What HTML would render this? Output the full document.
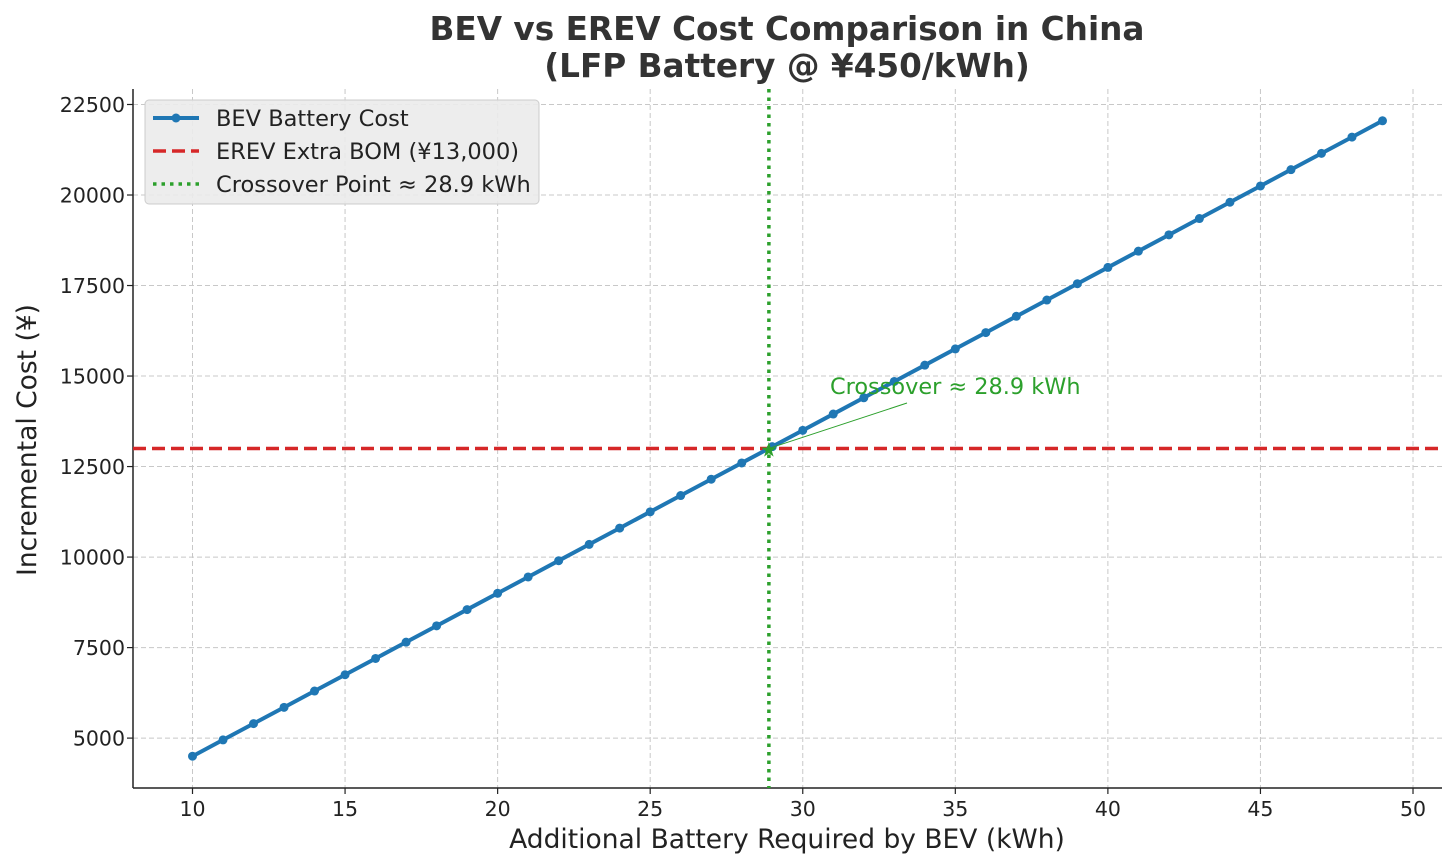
<!DOCTYPE html>
<html><head><meta charset="utf-8"><style>
body{margin:0;background:#fff;}
svg{display:block;font-family:"DejaVu Sans","Liberation Sans",sans-serif;}
</style></head><body>
<svg id="chart" width="1456" height="868" xmlns="http://www.w3.org/2000/svg">
<text x="787" y="40" text-anchor="middle" font-size="32.7" font-weight="bold" fill="#333">BEV vs EREV Cost Comparison in China</text>
<text x="787" y="77" text-anchor="middle" font-size="32.7" font-weight="bold" fill="#333">(LFP Battery @ ¥450/kWh)</text>
<g id="grid"></g><g id="ticks"></g><g id="marks"></g>
<text x="787" y="848" text-anchor="middle" font-size="26.5" fill="#222">Additional Battery Required by BEV (kWh)</text>
<text transform="translate(36,440) rotate(-90)" text-anchor="middle" font-size="26.5" fill="#222">Incremental Cost (¥)</text>
</svg>
<script>
const kwh = [10,11,12,13,14,15,16,17,18,19,20,21,22,23,24,25,26,27,28,29,30,31,32,33,34,35,36,37,38,39,40,41,42,43,44,45,46,47,48,49];
const bevCost = [4500,4950,5400,5850,6300,6750,7200,7650,8100,8550,9000,9450,9900,10350,10800,11250,11700,12150,12600,13050,13500,13950,14400,14850,15300,15750,16200,16650,17100,17550,18000,18450,18900,19350,19800,20250,20700,21150,21600,22050];
const erevCost = [13000];
const crossover = [28.89];
const xTicks = [10,15,20,25,30,35,40,45,50];
const yTicks = [5000,7500,10000,12500,15000,17500,20000,22500];

const L=133,R=1442,T=89,B=788;
const xmin=8.05,xmax=50.95,ymin=3622,ymax=22928;
const X=v=>L+(v-xmin)/(xmax-xmin)*(R-L);
const Y=v=>B-(v-ymin)/(ymax-ymin)*(B-T);
const NS="http://www.w3.org/2000/svg";
function mk(tag,attrs,parent){const e=document.createElementNS(NS,tag);for(const k in attrs)e.setAttribute(k,attrs[k]);document.getElementById(parent).appendChild(e);return e;}

xTicks.forEach(t=>{
 const g=mk('line',{x1:X(t),x2:X(t),y1:T,y2:B,stroke:'#c8c8c8','stroke-width':1,'stroke-dasharray':'5,3'},'grid');
 
 
 mk('line',{x1:X(t),x2:X(t),y1:B,y2:B+6,stroke:'#222','stroke-width':1.2},'ticks');
 const tx=mk('text',{x:X(t),y:B+28,'text-anchor':'middle','font-size':20.5,fill:'#222'},'ticks');
 tx.textContent=t;
 
 
});
yTicks.forEach(t=>{
 const g=mk('line',{x1:L,x2:R,y1:Y(t),y2:Y(t),stroke:'#c8c8c8','stroke-width':1,'stroke-dasharray':'5,3'},'grid');
 
 
 mk('line',{x1:L-6,x2:L,y1:Y(t),y2:Y(t),stroke:'#222','stroke-width':1.2},'ticks');
 const tx=mk('text',{x:L-8,y:Y(t)+7.5,'text-anchor':'end','font-size':20.5,fill:'#222'},'ticks');
 tx.textContent=t;
 
 
});
mk('line',{x1:L,x2:L,y1:T,y2:B,stroke:'#222','stroke-width':1.5},'ticks');
mk('line',{x1:L,x2:R,y1:B,y2:B,stroke:'#222','stroke-width':1.5},'ticks');

const erev=mk('line',{x1:L,x2:R,y1:Y(erevCost[0]),y2:Y(erevCost[0]),stroke:'#d62728','stroke-width':3.5,'stroke-dasharray':'13,6'},'marks');


const cx=mk('line',{x1:X(crossover[0]),x2:X(crossover[0]),y1:T,y2:B,stroke:'#2ca02c','stroke-width':3.5,'stroke-dasharray':'3.5,5'},'marks');



const pl=mk('polyline',{points:kwh.map((k,i)=>X(k)+','+Y(bevCost[i])).join(' '),fill:'none',stroke:'#1f77b4','stroke-width':4,'stroke-linejoin':'round'},'marks');


kwh.forEach((k,i)=>{
 const c=mk('circle',{cx:X(k),cy:Y(bevCost[i]),r:4.5,fill:'#1f77b4'},'marks');
 
 
});
const px=X(crossover[0]),py=Y(erevCost[0]);
const star=mk('text',{x:px,y:py+8,'text-anchor':'middle','font-size':20,fill:'#2ca02c'},'marks');
star.textContent='★';


const al=mk('line',{x1:px,y1:py,x2:907,y2:403,stroke:'#2ca02c','stroke-width':1},'marks');


const at=mk('text',{x:830,y:394,'font-size':22.4,fill:'#2ca02c'},'marks');
at.textContent='Crossover ≈ 28.9 kWh';



// legend
const lg=mk('rect',{x:145,y:100,width:394,height:104,rx:4,fill:'#ebebeb','fill-opacity':0.9,stroke:'#ccc'},'marks');


mk('line',{x1:153,x2:199,y1:118,y2:118,stroke:'#1f77b4','stroke-width':4},'marks');
mk('circle',{cx:176,cy:118,r:4.5,fill:'#1f77b4'},'marks');
mk('line',{x1:153,x2:199,y1:151,y2:151,stroke:'#d62728','stroke-width':3.5,'stroke-dasharray':'13,6'},'marks');
mk('line',{x1:153,x2:199,y1:184,y2:184,stroke:'#2ca02c','stroke-width':3.5,'stroke-dasharray':'3.5,5'},'marks');
[['BEV Battery Cost',118,'legend-entry-bev'],['EREV Extra BOM (¥13,000)',151,'legend-entry-erev'],['Crossover Point ≈ 28.9 kWh',184,'legend-entry-crossover']].forEach(([s,y,n])=>{
 const t=mk('text',{x:216,y:y+8,'font-size':22.5,fill:'#222'},'marks');
 t.textContent=s;
 
 
});
</script>
</body></html>
